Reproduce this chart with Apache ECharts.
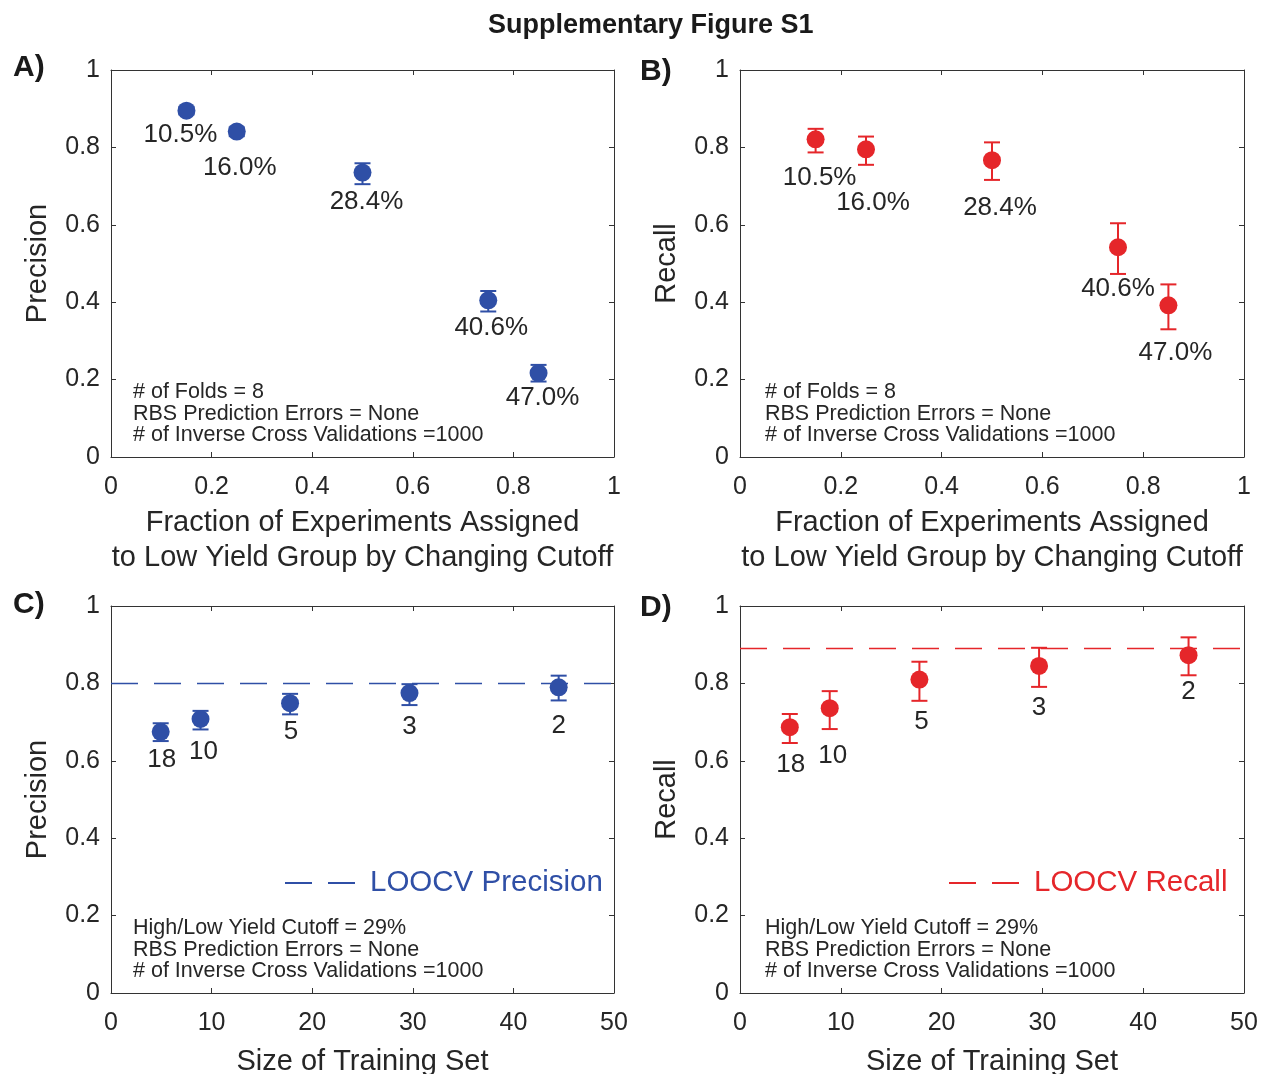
<!DOCTYPE html>
<html>
<head>
<meta charset="utf-8">
<script src="https://cdn.jsdelivr.net/npm/echarts@6/dist/echarts.min.js"></script>
<style>
html,body{margin:0;padding:0;background:#fff;}
#chart{width:1262px;height:1074px;}
</style>
</head>
<body>
<div id="chart"></div>
<script>
// ---------------- data ----------------
const fracX = [0.15, 0.25, 0.5, 0.75, 0.85];
const cutoffLabels = ['10.5%', '16.0%', '28.4%', '40.6%', '47.0%'];

const precA = [0.895, 0.841, 0.735, 0.405, 0.217];
const precALo = [0.885, 0.829, 0.705, 0.376, 0.195];
const precAHi = [0.905, 0.852, 0.759, 0.429, 0.238];

const recB = [0.821, 0.795, 0.767, 0.542, 0.392];
const recBLo = [0.787, 0.755, 0.716, 0.473, 0.330];
const recBHi = [0.848, 0.828, 0.813, 0.604, 0.446];

const trainSize = [4.94, 8.9, 17.8, 29.67, 44.5];
const foldLabels = ['18', '10', '5', '3', '2'];

const precC = [0.675, 0.708, 0.749, 0.775, 0.790];
const precCLo = [0.651, 0.681, 0.720, 0.744, 0.756];
const precCHi = [0.697, 0.729, 0.773, 0.798, 0.820];

const recD = [0.687, 0.736, 0.810, 0.845, 0.873];
const recDLo = [0.646, 0.682, 0.755, 0.791, 0.821];
const recDHi = [0.721, 0.780, 0.856, 0.892, 0.919];

const loocvPrecision = 0.80;
const loocvRecall = 0.89;

// ---------------- layout (label offsets from point centre) ----------------
const offA = [[-6, 24], [3, 36], [4, 29], [3, 28], [4, 25]];
const offB = [[4, 39], [7, 53], [8, 48], [0, 42], [7, 48]];
const offC = [[1, 28], [3, 33], [1, 29], [0, 34], [0, 39]];
const offD = [[1, 38], [3, 48], [2, 42], [0, 42], [0, 37]];

const BLUE = '#2f4fa6';
const RED = '#e5262a';
const TXT = '#262626';
const AX = '#333333';
const FONT = "'Liberation Sans', Arial, Helvetica, sans-serif";

const grids = [
  {left: 111, top: 70, width: 503, height: 387, outerBoundsMode: 'none', containLabel: false},
  {left: 740, top: 70, width: 504, height: 387, outerBoundsMode: 'none', containLabel: false},
  {left: 111, top: 606, width: 503, height: 387, outerBoundsMode: 'none', containLabel: false},
  {left: 740, top: 606, width: 504, height: 387, outerBoundsMode: 'none', containLabel: false}
];

function xAxes(gi, min, max, interval, name, gap) {
  const common = {
    gridIndex: gi, type: 'value', min: min, max: max, interval: interval,
    axisLine: {show: true, onZero: false, lineStyle: {color: AX, width: 1}},
    axisTick: {show: true, inside: true, length: 5, lineStyle: {color: AX, width: 1}},
    splitLine: {show: false}
  };
  return [
    Object.assign({}, common, {
      position: 'bottom',
      axisLabel: {fontSize: 25, color: TXT, fontFamily: FONT, margin: 18},
      name: name, nameLocation: 'middle', nameGap: gap,
      nameTextStyle: {fontSize: 29, color: TXT, fontFamily: FONT, lineHeight: 35}
    }),
    Object.assign({}, common, {position: 'top', axisLabel: {show: false}})
  ];
}
function yAxes(gi, name) {
  const common = {
    gridIndex: gi, type: 'value', min: 0, max: 1, interval: 0.2,
    axisLine: {show: true, onZero: false, lineStyle: {color: AX, width: 1}},
    axisTick: {show: true, inside: true, length: 5, lineStyle: {color: AX, width: 1}},
    splitLine: {show: false}
  };
  return [
    Object.assign({}, common, {
      position: 'left',
      axisLabel: {fontSize: 25, color: TXT, fontFamily: FONT, margin: 11,
        formatter: v => String(+v.toFixed(1))},
      name: name, nameLocation: 'middle', nameGap: 59,
      nameTextStyle: {fontSize: 29, color: TXT, fontFamily: FONT}
    }),
    Object.assign({}, common, {position: 'right', axisLabel: {show: false}})
  ];
}

function errSeries(gi, xs, lo, hi, color) {
  return {
    type: 'custom', xAxisIndex: 2 * gi, yAxisIndex: 2 * gi, z: 2,
    data: xs.map((x, i) => [x, lo[i], hi[i]]),
    encode: {x: 0, y: [1, 2]},
    silent: true,
    renderItem: function (params, api) {
      const x = api.value(0);
      const a = api.coord([x, api.value(1)]);
      const b = api.coord([x, api.value(2)]);
      const w = 8;
      const st = {stroke: color, lineWidth: 2};
      return {type: 'group', children: [
        {type: 'line', shape: {x1: a[0], y1: a[1], x2: b[0], y2: b[1]}, style: st},
        {type: 'line', shape: {x1: a[0] - w, y1: a[1], x2: a[0] + w, y2: a[1]}, style: st},
        {type: 'line', shape: {x1: b[0] - w, y1: b[1], x2: b[0] + w, y2: b[1]}, style: st}
      ]};
    }
  };
}
function dotSeries(gi, xs, ys, labels, offs, color) {
  return {
    type: 'scatter', xAxisIndex: 2 * gi, yAxisIndex: 2 * gi, z: 3,
    symbol: 'circle', symbolSize: 18,
    itemStyle: {color: color, opacity: 1},
    data: xs.map((x, i) => ({
      value: [x, ys[i]],
      label: {show: true, position: 'inside', offset: offs[i], formatter: labels[i],
        fontSize: 26, color: TXT, fontFamily: FONT}
    })),
    emphasis: {disabled: true}
  };
}
function refLine(gi, xmax, y, color, name) {
  return {
    type: 'line', name: name, xAxisIndex: 2 * gi, yAxisIndex: 2 * gi, z: 1,
    data: [[0, y], [xmax, y]], symbol: 'none', showSymbol: false,
    lineStyle: {color: color, width: 1.5, type: [27, 16]},
    itemStyle: {color: color},
    silent: true
  };
}

const annot = function (x, y, lines) {
  return {type: 'text', left: x, top: y, z: 10,
    style: {text: lines.join('\n'), font: '21.5px ' + FONT, fill: TXT, lineHeight: 21.7}};
};
const panelLabel = function (x, y, t) {
  return {type: 'text', left: x, top: y, z: 10,
    style: {text: t, font: 'bold 30px ' + FONT, fill: '#1a1a1a'}};
};

const dashIcon = 'path://M0,0H27V2H0Z M43,0H70V2H43Z';
function legendFor(name, left, color) {
  return {
    data: [{name: name, icon: dashIcon}], left: left, top: 868, padding: 0,
    itemWidth: 70, itemHeight: 2, symbolKeepAspect: false, selectedMode: false,
    itemStyle: {color: color},
    textStyle: {fontSize: 29.5, color: color, fontFamily: FONT, padding: [0, 0, 0, 10]}
  };
}

const option = {
  backgroundColor: '#ffffff',
  animation: false,
  grid: grids,
  xAxis: [].concat(
    xAxes(0, 0, 1, 0.2, 'Fraction of Experiments Assigned\nto Low Yield Group by Changing Cutoff', 48),
    xAxes(1, 0, 1, 0.2, 'Fraction of Experiments Assigned\nto Low Yield Group by Changing Cutoff', 48),
    xAxes(2, 0, 50, 10, 'Size of Training Set', 51),
    xAxes(3, 0, 50, 10, 'Size of Training Set', 51)
  ),
  yAxis: [].concat(
    yAxes(0, 'Precision'), yAxes(1, 'Recall'), yAxes(2, 'Precision'), yAxes(3, 'Recall')
  ),
  legend: [
    legendFor('LOOCV Precision', 285, BLUE),
    legendFor('LOOCV Recall', 949, RED)
  ],
  series: [
    errSeries(0, fracX, precALo, precAHi, BLUE),
    dotSeries(0, fracX, precA, cutoffLabels, offA, BLUE),
    errSeries(1, fracX, recBLo, recBHi, RED),
    dotSeries(1, fracX, recB, cutoffLabels, offB, RED),
    refLine(2, 50, loocvPrecision, BLUE, 'LOOCV Precision'),
    errSeries(2, trainSize, precCLo, precCHi, BLUE),
    dotSeries(2, trainSize, precC, foldLabels, offC, BLUE),
    refLine(3, 50, loocvRecall, RED, 'LOOCV Recall'),
    errSeries(3, trainSize, recDLo, recDHi, RED),
    dotSeries(3, trainSize, recD, foldLabels, offD, RED)
  ],
  graphic: [
    {type: 'text', left: 488, top: 12, z: 10,
      style: {text: 'Supplementary Figure S1', font: 'bold 27px ' + FONT, fill: '#1a1a1a'}},
    panelLabel(13, 53, 'A)'),
    panelLabel(640, 57, 'B)'),
    panelLabel(13, 590, 'C)'),
    panelLabel(640, 593, 'D)'),
    annot(133, 381, ['# of Folds = 8', 'RBS Prediction Errors = None', '# of Inverse Cross Validations =1000']),
    annot(765, 381, ['# of Folds = 8', 'RBS Prediction Errors = None', '# of Inverse Cross Validations =1000']),
    annot(133, 917, ['High/Low Yield Cutoff = 29%', 'RBS Prediction Errors = None', '# of Inverse Cross Validations =1000']),
    annot(765, 917, ['High/Low Yield Cutoff = 29%', 'RBS Prediction Errors = None', '# of Inverse Cross Validations =1000'])
  ]
};

const chart = echarts.init(document.getElementById('chart'), null, {renderer: 'canvas'});
chart.setOption(option);
</script>
</body>
</html>
